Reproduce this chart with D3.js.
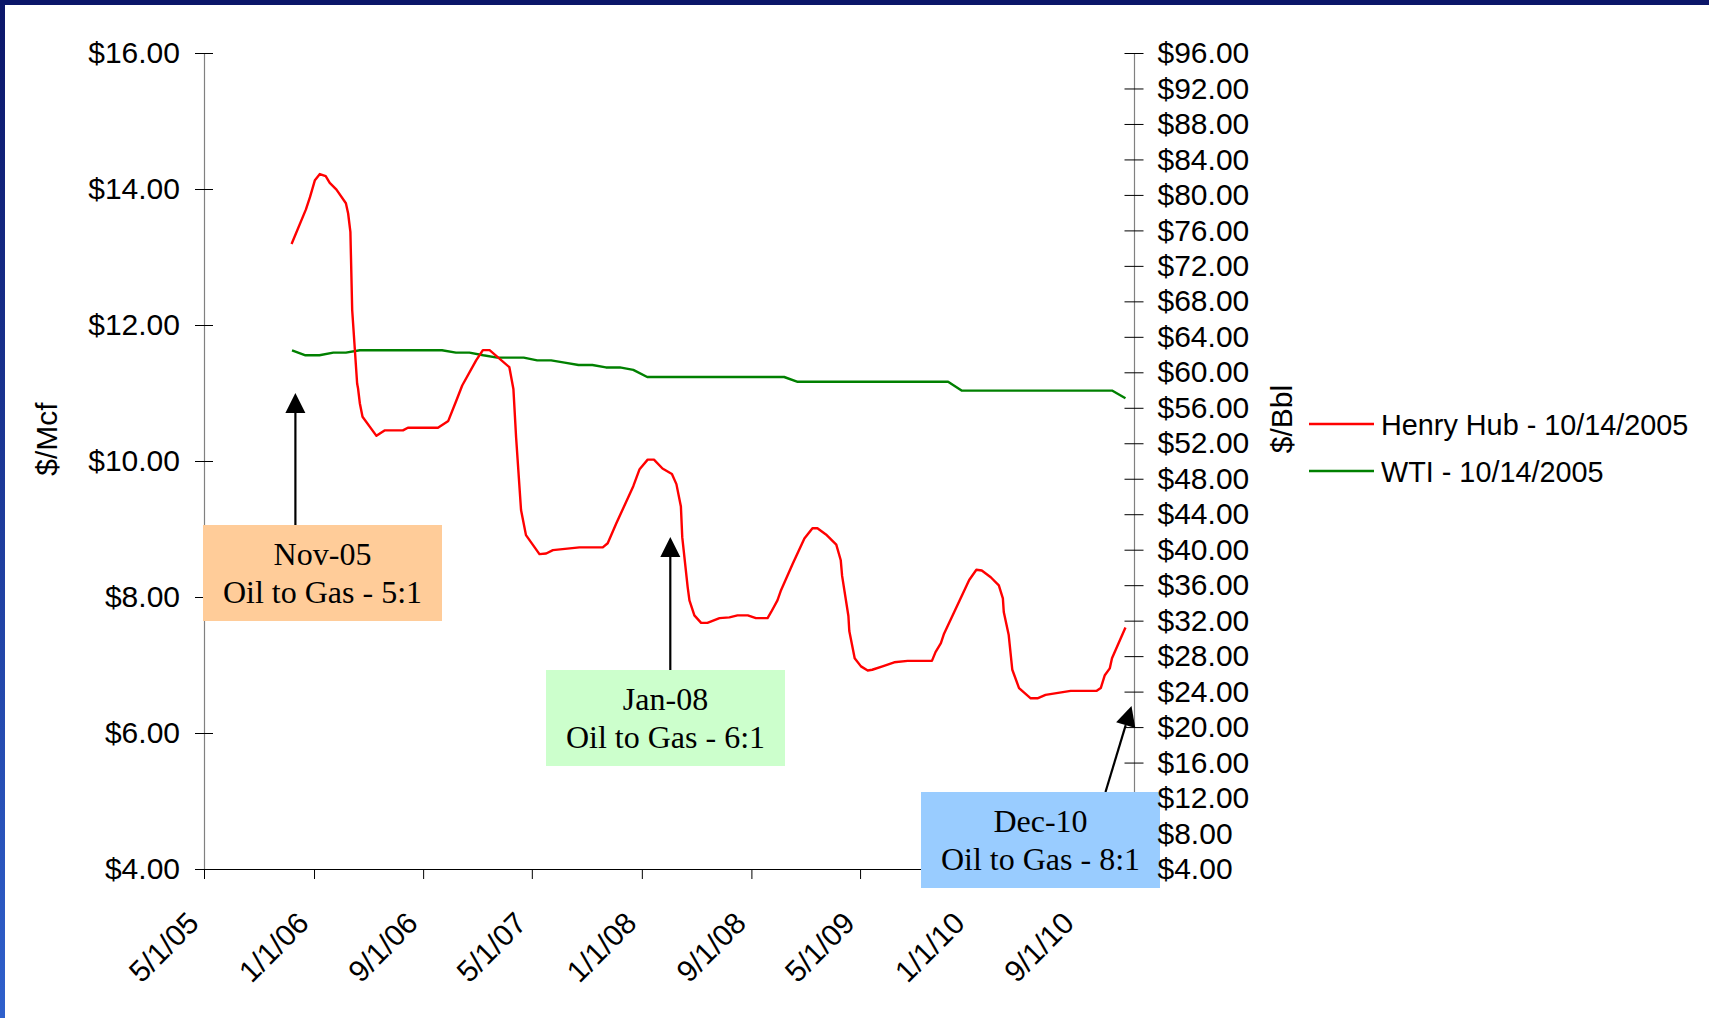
<!DOCTYPE html>
<html>
<head>
<meta charset="utf-8">
<script src="https://cdn.jsdelivr.net/npm/d3@7/dist/d3.min.js"></script>
<style>
  html, body { margin: 0; padding: 0; background: #ffffff; }
  svg { display: block; }
</style>
</head>
<body>
<svg id="chart" width="1709" height="1018"></svg>
<script>
// ---------------- DATA ----------------
const xTickDates  = ["2005-05-01","2006-01-01","2006-09-01","2007-05-01","2008-01-01","2008-09-01","2009-05-01","2010-01-01","2010-09-01"];
const xTickLabels = ["5/1/05","1/1/06","9/1/06","5/1/07","1/1/08","9/1/08","5/1/09","1/1/10","9/1/10"];
const xDomainDates = ["2005-05-01","2011-01-01"];

const gasTicks = [4, 6, 8, 10, 12, 14, 16];
const oilTicks = [4, 8, 12, 16, 20, 24, 28, 32, 36, 40, 44, 48, 52, 56, 60, 64, 68, 72, 76, 80, 84, 88, 92, 96];

const seriesNames = ["Henry Hub - 10/14/2005", "WTI - 10/14/2005"];

// Henry Hub forward curve ($/Mcf)
const henryDates = [
  "2005-11-12","2005-12-14","2005-12-23","2006-01-03","2006-01-14","2006-01-27","2006-02-05","2006-02-20",
  "2006-03-13","2006-03-18","2006-03-23","2006-03-27","2006-04-07","2006-04-09","2006-04-13","2006-04-19",
  "2006-05-20","2006-06-07","2006-07-18","2006-07-29","2006-10-04","2006-10-27","2006-11-14","2006-11-27",
  "2006-12-28","2007-01-12","2007-01-27","2007-03-12","2007-03-21","2007-03-27","2007-04-07","2007-04-18",
  "2007-05-18","2007-06-02","2007-06-17","2007-08-15","2007-10-06","2007-10-17","2007-11-05","2007-12-13",
  "2007-12-27","2008-01-14","2008-01-28","2008-02-16","2008-03-08","2008-03-18","2008-03-28","2008-03-31",
  "2008-04-12","2008-04-16","2008-04-27","2008-05-12","2008-05-26","2008-06-22","2008-07-14","2008-08-01",
  "2008-08-24","2008-09-11","2008-10-07","2008-10-15","2008-10-29","2008-11-06","2008-12-02","2008-12-28",
  "2009-01-15","2009-01-26","2009-02-14","2009-03-09","2009-03-19","2009-03-22","2009-04-05","2009-04-07",
  "2009-04-19","2009-05-03","2009-05-18","2009-05-28","2009-06-20","2009-07-16","2009-08-15","2009-10-08",
  "2009-10-16","2009-10-28","2009-11-04","2009-12-30","2010-01-15","2010-01-27","2010-02-16","2010-03-06",
  "2010-03-15","2010-03-17","2010-03-28","2010-04-05","2010-04-20","2010-05-16","2010-05-31","2010-06-18",
  "2010-08-13","2010-10-10","2010-10-19","2010-10-28","2010-11-08","2010-11-13","2010-12-13"
];
const henryValues = [
  13.19,13.70,13.88,14.13,14.22,14.19,14.09,13.99,
  13.79,13.64,13.37,12.22,11.14,11.07,10.85,10.65,
  10.37,10.45,10.45,10.49,10.49,10.59,10.89,11.11,
  11.48,11.63,11.63,11.38,11.06,10.35,9.28,8.91,
  8.63,8.64,8.69,8.73,8.73,8.79,9.08,9.63,
  9.88,10.02,10.02,9.89,9.81,9.66,9.33,8.88,
  8.15,7.95,7.73,7.62,7.62,7.69,7.70,7.73,
  7.73,7.69,7.69,7.78,7.95,8.10,8.49,8.86,
  9.01,9.01,8.92,8.77,8.54,8.31,7.72,7.50,
  7.10,6.98,6.92,6.93,6.98,7.04,7.06,7.06,
  7.19,7.32,7.46,8.25,8.40,8.39,8.29,8.17,
  7.98,7.78,7.44,6.93,6.66,6.51,6.51,6.56,
  6.62,6.62,6.66,6.85,6.95,7.10,7.55
];

// WTI forward curve ($/Bbl), monthly contracts
const wtiMonths = [
  "2005-11","2005-12","2006-01","2006-02","2006-03","2006-04","2006-05","2006-06","2006-07","2006-08","2006-09","2006-10",
  "2006-11","2006-12","2007-01","2007-02","2007-03","2007-04","2007-05","2007-06","2007-07","2007-08","2007-09","2007-10",
  "2007-11","2007-12","2008-01","2008-02","2008-03","2008-04","2008-05","2008-06","2008-07","2008-08","2008-09","2008-10",
  "2008-11","2008-12","2009-01","2009-02","2009-03","2009-04","2009-05","2009-06","2009-07","2009-08","2009-09","2009-10",
  "2009-11","2009-12","2010-01","2010-02","2010-03","2010-04","2010-05","2010-06","2010-07","2010-08","2010-09","2010-10",
  "2010-11","2010-12"
];
const wtiValues = [
  62.48,61.92,61.92,62.22,62.22,62.48,62.48,62.48,62.48,62.48,62.48,62.48,
  62.22,62.22,61.92,61.66,61.66,61.66,61.35,61.35,61.09,60.82,60.82,60.55,
  60.55,60.28,59.47,59.47,59.47,59.47,59.47,59.47,59.47,59.47,59.47,59.47,
  59.47,58.93,58.93,58.93,58.93,58.93,58.93,58.93,58.93,58.93,58.93,58.93,
  58.93,57.94,57.94,57.94,57.94,57.94,57.94,57.94,57.94,57.94,57.94,57.94,
  57.94,57.07
];

const noteTitles = ["Nov-05", "Jan-08", "Dec-10"];
const noteRatios = ["Oil to Gas - 5:1", "Oil to Gas - 6:1", "Oil to Gas - 8:1"];

// ---------------- LAYOUT / STYLE ----------------
const W = 1709, H = 1018;
const plot = { left: 204, right: 1134, top: 53, bottom: 869 };
const SANS = "'Liberation Sans', Arial, Helvetica, sans-serif";
const SERIF = "'Liberation Serif', 'Times New Roman', Times, serif";
const SANS_SIZE = 30;
const LEGEND_SIZE = 28.8;
const SERIF_SIZE = 32;
const PLOT_DAY = 13; // contract months plotted near mid-month
const RED = "#ff0000", GREEN = "#008000";

const noteBoxes = [
  { x: 203, y: 525, w: 239, h: 96, fill: "#ffcc99" },
  { x: 546, y: 670, w: 239, h: 96, fill: "#ccffcc" },
  { x: 921, y: 792, w: 239, h: 96, fill: "#99ccff" }
];
const noteArrows = [
  { x1: 295.4, y1: 525, x2: 295.4, y2: 393 },
  { x1: 670.3, y1: 670, x2: 670.3, y2: 537 },
  { x1: 1105.5, y1: 792, x2: 1131.5, y2: 706 }
];

const parse = d3.timeParse("%Y-%m-%d");
const parseMonth = d3.timeParse("%Y-%m");

const svg = d3.select("#chart");

// background and frame
svg.append("rect").attr("width", W).attr("height", H).attr("fill", "#ffffff");
const defs = svg.append("defs");
const grad = defs.append("linearGradient").attr("id", "leftband").attr("x1", 0).attr("y1", 0).attr("x2", 0).attr("y2", 1);
grad.append("stop").attr("offset", "0%").attr("stop-color", "#0b1669");
grad.append("stop").attr("offset", "100%").attr("stop-color", "#2f60cc");
svg.append("rect").attr("x", 0).attr("y", 0).attr("width", 5).attr("height", H).attr("fill", "url(#leftband)");
svg.append("rect").attr("x", 0).attr("y", 0).attr("width", W).attr("height", 5).attr("fill", "#0b1669");

// scales
const x = d3.scaleTime().domain(xDomainDates.map(parse)).range([plot.left, plot.right]);
const yGas = d3.scaleLinear().domain([4, 16]).range([plot.bottom, plot.top]);
const yOil = d3.scaleLinear().domain([4, 96]).range([plot.bottom, plot.top]);
const money = d3.format("$.2f");

// axes
const gLeft = svg.append("g").attr("transform", `translate(${plot.left},0)`)
  .call(d3.axisLeft(yGas).tickValues(gasTicks).tickSize(9).tickSizeOuter(0).tickPadding(15).tickFormat(money));
gLeft.select(".domain").attr("stroke", "#808080").attr("stroke-width", 1.2);
gLeft.selectAll(".tick line").attr("x1", 9).attr("x2", -9).attr("stroke", "#000");
gLeft.selectAll(".tick text").attr("font-family", SANS).attr("font-size", SANS_SIZE).attr("fill", "#000");

// right axis: line + ticks (labels drawn later, above the annotation box)
const gRight = svg.append("g").attr("transform", `translate(${plot.right},0)`)
  .call(d3.axisRight(yOil).tickValues(oilTicks).tickSize(9.5).tickSizeOuter(0).tickFormat(""));
gRight.select(".domain").attr("stroke", "#808080").attr("stroke-width", 1.2);
gRight.selectAll(".tick line").attr("x1", -9.5).attr("x2", 9.5).attr("stroke", "#000");

const gBottom = svg.append("g").attr("transform", `translate(0,${plot.bottom})`)
  .call(d3.axisBottom(x).tickValues(xTickDates.map(parse)).tickSize(10).tickSizeOuter(0)
    .tickFormat((d, i) => xTickLabels[i]));
gBottom.select(".domain").attr("stroke", "#000").attr("stroke-width", 1.2);
gBottom.selectAll(".tick line").attr("stroke", "#000");
gBottom.selectAll(".tick text")
  .attr("font-family", SANS).attr("font-size", SANS_SIZE).attr("fill", "#000")
  .attr("x", 0).attr("y", 0).attr("dy", 0)
  .attr("text-anchor", "end")
  .attr("transform", "translate(-4,56) rotate(-45)");

// axis titles
svg.append("text").attr("transform", "translate(57,439) rotate(-90)")
  .attr("text-anchor", "middle").attr("font-family", SANS).attr("font-size", SANS_SIZE).text("$/Mcf");
svg.append("text").attr("transform", "translate(1292,419) rotate(-90)")
  .attr("text-anchor", "middle").attr("font-family", SANS).attr("font-size", SANS_SIZE).text("$/Bbl");

// series
const henry = henryDates.map((d, i) => ({ date: parse(d), value: henryValues[i] }));
const wti = wtiMonths.map((m, i) => {
  const d = parseMonth(m); d.setDate(PLOT_DAY);
  return { date: d, value: wtiValues[i] };
});

svg.append("path").datum(wti)
  .attr("fill", "none").attr("stroke", GREEN).attr("stroke-width", 2.4).attr("stroke-linejoin", "round")
  .attr("d", d3.line().x(d => x(d.date)).y(d => yOil(d.value)));
svg.append("path").datum(henry)
  .attr("fill", "none").attr("stroke", RED).attr("stroke-width", 2.4).attr("stroke-linejoin", "round")
  .attr("d", d3.line().x(d => x(d.date)).y(d => yGas(d.value)));

// legend
const legend = [
  { name: seriesNames[0], color: RED, y: 424 },
  { name: seriesNames[1], color: GREEN, y: 471 }
];
legend.forEach(l => {
  svg.append("line").attr("x1", 1309).attr("x2", 1374).attr("y1", l.y).attr("y2", l.y)
    .attr("stroke", l.color).attr("stroke-width", 2.4);
  svg.append("text").attr("x", 1381).attr("y", l.y + 10.5)
    .attr("font-family", SANS).attr("font-size", LEGEND_SIZE).attr("fill", "#000").text(l.name);
});

// annotation arrows
noteArrows.forEach(a => {
  const dx = a.x2 - a.x1, dy = a.y2 - a.y1;
  const len = Math.hypot(dx, dy), ux = dx / len, uy = dy / len;
  const headL = 20, headW = 10;
  const bx = a.x2 - ux * headL, by = a.y2 - uy * headL;
  svg.append("line").attr("x1", a.x1).attr("y1", a.y1).attr("x2", bx).attr("y2", by)
    .attr("stroke", "#000").attr("stroke-width", 2.2);
  const pts = [[a.x2, a.y2], [bx - uy * headW, by + ux * headW], [bx + uy * headW, by - ux * headW]];
  svg.append("polygon").attr("points", pts.map(p => p.join(",")).join(" ")).attr("fill", "#000");
});

// annotation boxes
noteBoxes.forEach((b, i) => {
  svg.append("rect").attr("x", b.x).attr("y", b.y).attr("width", b.w).attr("height", b.h).attr("fill", b.fill);
  svg.append("text").attr("x", b.x + b.w / 2).attr("y", b.y + 40)
    .attr("text-anchor", "middle").attr("font-family", SERIF).attr("font-size", SERIF_SIZE).attr("fill", "#000")
    .text(noteTitles[i]);
  svg.append("text").attr("x", b.x + b.w / 2).attr("y", b.y + 78)
    .attr("text-anchor", "middle").attr("font-family", SERIF).attr("font-size", SERIF_SIZE).attr("fill", "#000")
    .text(noteRatios[i]);
});

// right-axis labels, above the blue box
const gRightLabels = svg.append("g").attr("transform", `translate(${plot.right},0)`)
  .call(d3.axisRight(yOil).tickValues(oilTicks).tickSize(0).tickPadding(23.5).tickFormat(money));
gRightLabels.select(".domain").remove();
gRightLabels.selectAll(".tick line").remove();
gRightLabels.selectAll(".tick text").attr("font-family", SANS).attr("font-size", SANS_SIZE).attr("fill", "#000");
</script>
</body>
</html>
